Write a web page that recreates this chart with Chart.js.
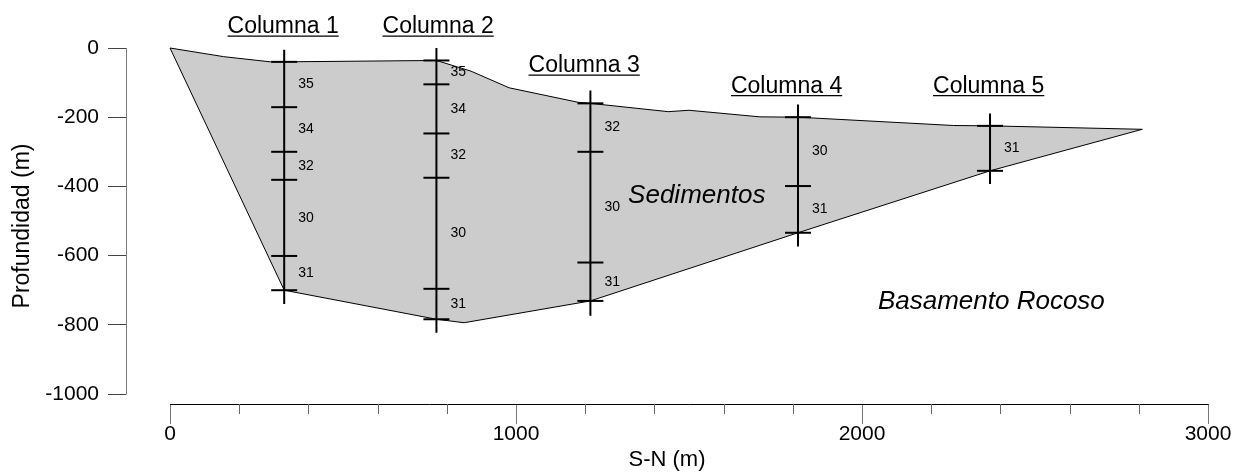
<!DOCTYPE html>
<html>
<head>
<meta charset="utf-8">
<title>Perfil S-N</title>
<script src="https://cdn.jsdelivr.net/npm/chart.js@4/dist/chart.umd.min.js"></script>
<style>
  html, body { margin: 0; padding: 0; background: #ffffff; }
  #wrap { width: 1235px; height: 472px; }
</style>
</head>
<body>
<div id="wrap"><canvas id="perfil" width="1235" height="472"></canvas></div>
<script>
const FONT = "'Liberation Sans', Arial, Helvetica, sans-serif";

// Top of the sediment fill along the S-N profile (m)
const topX = [0, 155, 290, 330, 770, 870, 980, 1180, 1215, 1440, 1500, 1705, 1815, 2265, 2370, 2810];
const topY = [0, -25, -40, -40, -36, -67, -115, -157, -160, -184, -180, -199, -200, -224, -225, -235];

// Bedrock surface (base of the sediments)
const baseX = [0, 330, 770, 850, 1215, 1815, 2370, 2810];
const baseY = [0, -700, -784, -794, -731, -534, -355, -235];

// Stratigraphic columns
const columnNames = ['Columna 1', 'Columna 2', 'Columna 3', 'Columna 4', 'Columna 5'];
const columnX = [330, 770, 1215, 1815, 2370];
const columnTitleX = [327, 775, 1197, 1782, 2366];
const columnTitleY = [43, 43, -70, -129, -129];
const columnLineTop = [-5, 0, -123, -163, -189];
const columnLineBottom = [-740, -823, -774, -574, -393];
const col1Bounds = [-40, -171, -300, -381, -601, -700];
const col2Bounds = [-36, -105, -247, -375, -696, -784];
const col3Bounds = [-160, -300, -620, -731];
const col4Bounds = [-200, -399, -534];
const col5Bounds = [-225, -355];
const col1Units = ['35', '34', '32', '30', '31'];
const col2Units = ['35', '34', '32', '30', '31'];
const col3Units = ['32', '30', '31'];
const col4Units = ['30', '31'];
const col5Units = ['31'];
const columnBounds = [col1Bounds, col2Bounds, col3Bounds, col4Bounds, col5Bounds];
const columnUnits = [col1Units, col2Units, col3Units, col4Units, col5Units];

// Region labels
const regionNames = ['Sedimentos', 'Basamento Rocoso'];
const regionX = [1324, 2046];
const regionY = [-449, -755];

// Axis ticks
const xMajorTicks = [0, 1000, 2000, 3000];
const xMinorTicks = [200, 400, 600, 800, 1200, 1400, 1600, 1800, 2200, 2400, 2600, 2800];
const yTicks = [0, -200, -400, -600, -800, -1000];
const X_MIN = -127.2, X_MAX = 3000, Y_MIN = -1028.9, Y_MAX = 0;

const toPoints = (xs, ys) => xs.map((x, i) => ({ x, y: ys[i] }));

// higher "order" is painted first, so the shaded body goes underneath the columns
const datasets = [
  {
    label: 'Sedimentos',
    order: 3,
    data: toPoints(topX, topY),
    showLine: true,
    borderColor: '#000000',
    borderWidth: 1,
    backgroundColor: '#cccccc',
    fill: '+1',
    pointRadius: 0,
    tension: 0,
    clip: false
  },
  {
    label: 'Basamento',
    order: 2,
    data: toPoints(baseX, baseY),
    showLine: true,
    borderColor: '#000000',
    borderWidth: 1,
    fill: false,
    pointRadius: 0,
    tension: 0,
    clip: false
  }
];

columnX.forEach((cx, i) => {
  const pts = [{ x: cx, y: columnLineTop[i] }]
    .concat(columnBounds[i].map(b => ({ x: cx, y: b, tick: true })))
    .concat([{ x: cx, y: columnLineBottom[i] }]);
  datasets.push({
    label: columnNames[i],
    order: 0,
    data: pts,
    showLine: true,
    borderColor: '#000000',
    borderWidth: 2,
    fill: false,
    tension: 0,
    pointStyle: 'line',
    pointRadius: ctx => (ctx.raw && ctx.raw.tick ? 13 : 0),
    pointBorderColor: '#000000',
    pointBorderWidth: 2,
    clip: false
  });
});

const crisp = v => Math.round(v) + 0.5;

const profileDecor = {
  id: 'profileDecor',
  afterDraw(chart) {
    const { ctx, chartArea } = chart;
    const xs = chart.scales.x, ys = chart.scales.y;
    ctx.save();

    // axis lines
    ctx.lineWidth = 1;
    ctx.strokeStyle = '#7a7a7a';
    ctx.beginPath();
    ctx.moveTo(crisp(chartArea.left), ys.getPixelForValue(Y_MAX));
    ctx.lineTo(crisp(chartArea.left), ys.getPixelForValue(-1000) + 0.5);
    ctx.stroke();

    ctx.strokeStyle = '#000000';
    ctx.beginPath();
    ctx.moveTo(xs.getPixelForValue(0), crisp(chartArea.bottom));
    ctx.lineTo(xs.getPixelForValue(3000) + 0.5, crisp(chartArea.bottom));
    ctx.stroke();

    // minor ticks on the distance axis
    ctx.strokeStyle = '#666666';
    ctx.beginPath();
    xMinorTicks.forEach(v => {
      const px = crisp(xs.getPixelForValue(v));
      ctx.moveTo(px, chartArea.bottom);
      ctx.lineTo(px, chartArea.bottom + 10);
    });
    ctx.stroke();

    // unit numbers inside each column
    ctx.fillStyle = '#000000';
    ctx.font = '14px ' + FONT;
    ctx.textAlign = 'left';
    ctx.textBaseline = 'middle';
    columnX.forEach((cx, i) => {
      const b = columnBounds[i];
      columnUnits[i].forEach((u, k) => {
        const mid = (ys.getPixelForValue(b[k]) + ys.getPixelForValue(b[k + 1])) / 2;
        ctx.fillText(u, xs.getPixelForValue(cx) + 14, mid);
      });
    });

    // column titles, underlined
    ctx.font = '23px ' + FONT;
    ctx.textAlign = 'center';
    ctx.textBaseline = 'alphabetic';
    columnNames.forEach((name, i) => {
      const px = xs.getPixelForValue(columnTitleX[i]);
      const py = ys.getPixelForValue(columnTitleY[i]);
      ctx.fillText(name, px, py);
      const w = ctx.measureText(name).width;
      ctx.lineWidth = 1.3;
      ctx.strokeStyle = '#000000';
      ctx.beginPath();
      ctx.moveTo(px - w / 2, py + 3);
      ctx.lineTo(px + w / 2, py + 3);
      ctx.stroke();
    });

    // region labels
    ctx.font = 'italic 26px ' + FONT;
    ctx.textAlign = 'left';
    regionNames.forEach((name, i) => {
      ctx.fillText(name, xs.getPixelForValue(regionX[i]), ys.getPixelForValue(regionY[i]));
    });

    ctx.restore();
  }
};

new Chart(document.getElementById('perfil'), {
  type: 'scatter',
  data: { datasets },
  plugins: [profileDecor],
  options: {
    responsive: false,
    animation: false,
    events: [],
    layout: { padding: { top: 48, right: 27, left: 0, bottom: 0 } },
    plugins: { legend: { display: false }, tooltip: { enabled: false } },
    scales: {
      x: {
        type: 'linear',
        min: X_MIN,
        max: X_MAX,
        border: { display: false },
        grid: { drawOnChartArea: false, drawTicks: true, tickLength: 20, color: '#777777', lineWidth: 1 },
        ticks: {
          autoSkip: false,
          maxRotation: 0,
          padding: -2,
          color: '#000000',
          font: { family: FONT, size: 21 },
          callback: v => String(v)
        },
        afterBuildTicks: s => { s.ticks = xMajorTicks.map(v => ({ value: v })); },
        afterFit: s => { s.height = 68; },
        title: {
          display: true,
          text: 'S-N (m)',
          color: '#000000',
          font: { family: FONT, size: 22 },
          padding: { top: 0, bottom: -1 }
        }
      },
      y: {
        type: 'linear',
        min: Y_MIN,
        max: Y_MAX,
        border: { display: false },
        grid: { drawOnChartArea: false, drawTicks: true, tickLength: 18, color: '#444444', lineWidth: 1 },
        ticks: {
          autoSkip: false,
          padding: 9,
          color: '#000000',
          font: { family: FONT, size: 21 },
          callback: v => String(v)
        },
        afterBuildTicks: s => { s.ticks = yTicks.map(v => ({ value: v })); },
        afterFit: s => { s.width = 126; },
        title: {
          display: true,
          text: 'Profundidad (m)',
          color: '#000000',
          font: { family: FONT, size: 23 },
          padding: { top: 9, bottom: 0 }
        }
      }
    }
  }
});
</script>
</body>
</html>
